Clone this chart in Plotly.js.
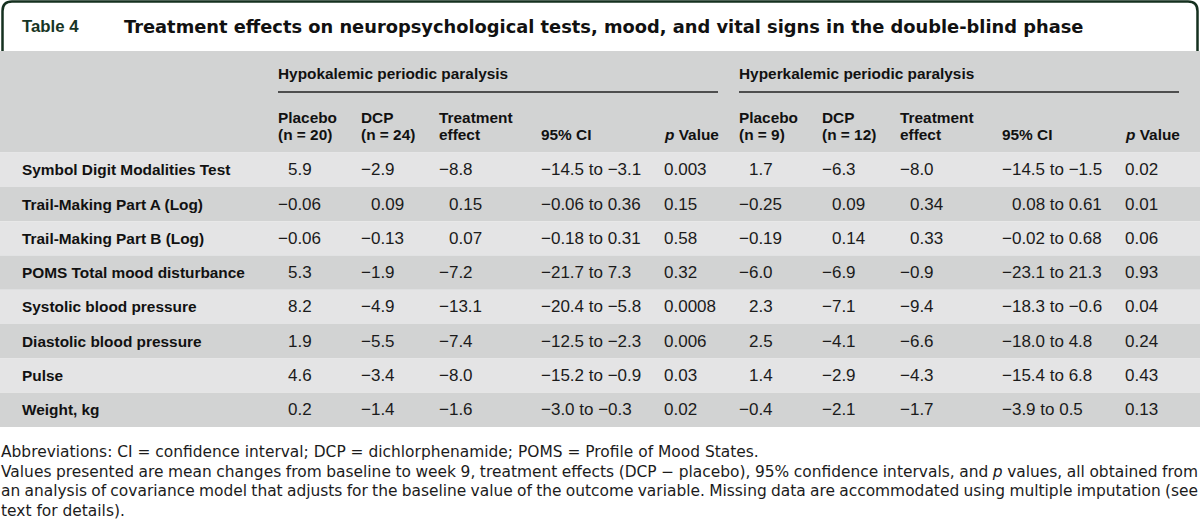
<!DOCTYPE html>
<html>
<head>
<meta charset="utf-8">
<script src="https://cdn.plot.ly/plotly-3.0.1.min.js"></script>
<style>html,body{margin:0;padding:0;background:#fff;}#chart{width:1200px;height:530px;}</style>
</head>
<body>
<div id="chart"></div>
<script>
// ---------- DATA ----------
const tableLabel = "Table 4";
const tableTitle = "Treatment effects on neuropsychological tests, mood, and vital signs in the double-blind phase";
const groupTitles = ["Hypokalemic periodic paralysis", "Hyperkalemic periodic paralysis"];
const hypoHeaders = [["Placebo", "(n = 20)"], ["DCP", "(n = 24)"], ["Treatment", "effect"], ["", "95% CI"], ["", "<i>p</i> Value"]];
const hyperHeaders = [["Placebo", "(n = 9)"], ["DCP", "(n = 12)"], ["Treatment", "effect"], ["", "95% CI"], ["", "<i>p</i> Value"]];
const rowLabels = ["Symbol Digit Modalities Test", "Trail-Making Part A (Log)", "Trail-Making Part B (Log)", "POMS Total mood disturbance", "Systolic blood pressure", "Diastolic blood pressure", "Pulse", "Weight, kg"];

const hypoPlacebo = ["5.9", "−0.06", "−0.06", "5.3", "8.2", "1.9", "4.6", "0.2"];
const hypoDCP = ["−2.9", "0.09", "−0.13", "−1.9", "−4.9", "−5.5", "−3.4", "−1.4"];
const hypoEffect = ["−8.8", "0.15", "0.07", "−7.2", "−13.1", "−7.4", "−8.0", "−1.6"];
const hypoCI = ["−14.5 to −3.1", "−0.06 to 0.36", "−0.18 to 0.31", "−21.7 to 7.3", "−20.4 to −5.8", "−12.5 to −2.3", "−15.2 to −0.9", "−3.0 to −0.3"];
const hypoP = ["0.003", "0.15", "0.58", "0.32", "0.0008", "0.006", "0.03", "0.02"];

const hyperPlacebo = ["1.7", "−0.25", "−0.19", "−6.0", "2.3", "2.5", "1.4", "−0.4"];
const hyperDCP = ["−6.3", "0.09", "0.14", "−6.9", "−7.1", "−4.1", "−2.9", "−2.1"];
const hyperEffect = ["−8.0", "0.34", "0.33", "−0.9", "−9.4", "−6.6", "−4.3", "−1.7"];
const hyperCI = ["−14.5 to −1.5", "0.08 to 0.61", "−0.02 to 0.68", "−23.1 to 21.3", "−18.3 to −0.6", "−18.0 to 4.8", "−15.4 to 6.8", "−3.9 to 0.5"];
const hyperP = ["0.02", "0.01", "0.06", "0.93", "0.04", "0.24", "0.43", "0.13"];

const footnotes = [
  "Abbreviations: CI = confidence interval; DCP = dichlorphenamide; POMS = Profile of Mood States.",
  "Values presented are mean changes from baseline to week 9, treatment effects (DCP − placebo), 95% confidence intervals, and <i>p</i> values, all obtained from",
  "an analysis of covariance model that adjusts for the baseline value of the outcome variable. Missing data are accommodated using multiple imputation (see",
  "text for details)."
];

// ---------- LAYOUT ----------
const W = 1200, H = 530;
const FONT = "Liberation Sans, Arial, sans-serif";
const WIDE = "DejaVu Sans";
const headTop = 51, rowTop = 152.6, rowH = 34.3;
const labelX = 22;
const groupX = [278, 739];
const colOffsets = [0, 83, 161, 263, 386];
const groupWidth = 440;
const minusPad = 10;
const lightRow = "#e4e4e5", darkRow = "#d2d3d3";
const boxColor = "#15301f";

// font size that makes a text span a target width
const ctx = document.createElement("canvas").getContext("2d");
function fitSize(text, family, weight, target) {
  ctx.font = weight + " 100px '" + family + "'";
  const w = ctx.measureText(text.replace(/<[^>]+>/g, "")).width;
  return w > 0 ? 100 * target / w : 16;
}
const titleSize = fitSize(tableTitle, WIDE, "bold", 960);
const footSize = fitSize(footnotes[0], WIDE, "normal", 758);

const groups = [
  {cols: [hypoPlacebo, hypoDCP, hypoEffect, hypoCI, hypoP], heads: hypoHeaders},
  {cols: [hyperPlacebo, hyperDCP, hyperEffect, hyperCI, hyperP], heads: hyperHeaders}
];

const shapes = [];
const annotations = [];

function txt(x, y, text, opts) {
  annotations.push(Object.assign({
    x: x, y: y, xref: "x", yref: "y", text: text, showarrow: false,
    xanchor: "left", yanchor: "middle", align: "left",
    borderpad: 0, borderwidth: 0,
    font: {family: FONT, size: 17, color: "#1b1b1b"}
  }, opts || {}));
}

// title box
shapes.push({type: "path", xref: "x", yref: "y",
  path: "M 2.5,51 L 2.5,11 Q 2.5,1.5 12,1.5 L 1188,1.5 Q 1197.5,1.5 1197.5,11 L 1197.5,51",
  line: {color: boxColor, width: 2.5}, layer: "above"});
txt(labelX, 26, "<b>" + tableLabel + "</b>", {font: {family: FONT, size: 16.8, color: "#173525"}});
txt(124, 26, "<b>" + tableTitle + "</b>", {font: {family: WIDE, size: titleSize, color: "#111"}});

// header background
shapes.push({type: "rect", xref: "x", yref: "y", x0: 0, x1: W, y0: headTop, y1: rowTop,
  fillcolor: darkRow, line: {width: 0}, layer: "below"});

// row backgrounds + labels
rowLabels.forEach((lab, i) => {
  const y0 = rowTop + i * rowH;
  shapes.push({type: "rect", xref: "x", yref: "y", x0: 0, x1: W, y0: y0, y1: y0 + rowH,
    fillcolor: i % 2 === 0 ? lightRow : darkRow, line: {width: 0}, layer: "below"});
  txt(labelX, y0 + rowH / 2, "<b>" + lab + "</b>", {font: {family: FONT, size: 15.4, color: "#111"}});
});

// groups
groups.forEach((g, gi) => {
  const gx = groupX[gi];
  txt(gx, 73, "<b>" + groupTitles[gi] + "</b>", {font: {family: FONT, size: 15.4, color: "#111"}});
  shapes.push({type: "line", xref: "x", yref: "y", x0: gx, x1: gx + groupWidth, y0: 92, y1: 92,
    line: {color: "#222", width: 1.6}});
  g.heads.forEach((h, ci) => {
    const x = gx + colOffsets[ci];
    if (h[0]) txt(x, 117, "<b>" + h[0] + "</b>", {font: {family: FONT, size: 15.4, color: "#111"}});
    txt(x, 134, "<b>" + h[1] + "</b>", {font: {family: FONT, size: 15.4, color: "#111"}});
  });
  g.cols.forEach((col, ci) => {
    const x0 = gx + colOffsets[ci];
    col.forEach((v, ri) => {
      const pad = (ci < 4 && v.charAt(0) !== "−") ? minusPad : 0;
      txt(x0 + pad, rowTop + ri * rowH + rowH / 2, v);
    });
  });
});

// footnotes
const footY = [452, 471.5, 491, 510.5];
const footStart = annotations.length;
footnotes.forEach((f, i) => {
  txt(0.5, footY[i], f, {font: {family: WIDE, size: footSize, color: "#1b1b1b"}});
});

const layout = {
  width: W, height: H,
  margin: {l: 0, r: 0, t: 0, b: 0, pad: 0},
  paper_bgcolor: "#ffffff", plot_bgcolor: "#ffffff",
  xaxis: {range: [0, W], visible: false, fixedrange: true},
  yaxis: {range: [H, 0], visible: false, fixedrange: true},
  showlegend: false,
  shapes: shapes,
  annotations: annotations
};

Plotly.newPlot("chart", [], layout, {displayModeBar: false, staticPlot: true}).then(() => {
  // justify the two full-width footnote lines
  [1, 2].forEach(k => {
    const idx = footStart + k;
    const el = document.querySelector('.annotation[data-index="' + idx + '"] text');
    if (!el) return;
    const len = el.getComputedTextLength();
    const spaces = (footnotes[k].replace(/<[^>]+>/g, "").match(/ /g) || []).length;
    const target = 1197;
    if (spaces > 0) {
      el.style.wordSpacing = ((target - len) / spaces) + "px";
    }
  });
});
</script>
</body>
</html>
